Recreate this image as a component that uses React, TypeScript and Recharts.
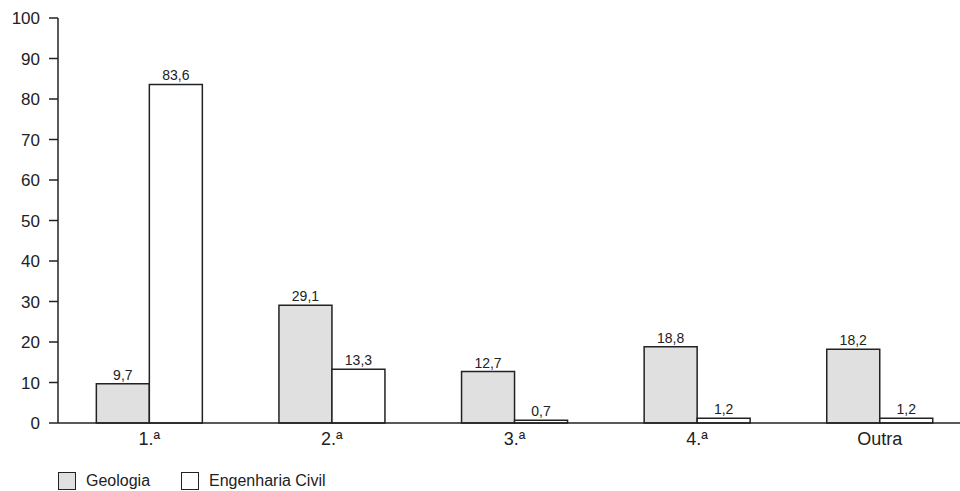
import { BarChart, Bar, XAxis, YAxis, LabelList } from 'recharts'

const categories = ['1.ª', '2.ª', '3.ª', '4.ª', 'Outra']
const geologia = [9.7, 29.1, 12.7, 18.8, 18.2]
const engenhariaCivil = [83.6, 13.3, 0.7, 1.2, 1.2]
const yTicks = [0, 10, 20, 30, 40, 50, 60, 70, 80, 90, 100]

const data = categories.map((name, i) => ({
  name,
  geologia: geologia[i],
  engenharia: engenhariaCivil[i],
}))

const fmt = (v: any) => Number(v).toFixed(1).replace('.', ',')
const font = 'Liberation Sans, Arial, sans-serif'
const ink = '#222'

function LegendBox({ fill, label, left }: { fill: string; label: string; left: number }) {
  return (
    <div style={{ position: 'absolute', left, top: 472, display: 'flex', alignItems: 'center' }}>
      <div style={{ width: 18, height: 18, background: fill, border: `1.5px solid ${ink}`, boxSizing: 'border-box' }} />
      <span style={{ marginLeft: 10, fontSize: 16, color: ink, fontFamily: font }}>{label}</span>
    </div>
  )
}

export default function App() {
  return (
    <div style={{ position: 'fixed', left: 0, top: 0, width: 960, height: 491, overflow: 'hidden', background: '#fff' }}>
      <BarChart
        width={971}
        height={491}
        data={data}
        margin={{ top: 18, right: 0, bottom: 38, left: 0 }}
        barCategoryGap="21%"
        barGap={0}
      >
        <XAxis
          dataKey="name"
          tickLine={false}
          axisLine={{ stroke: ink, strokeWidth: 1.5 }}
          tick={{ fontSize: 18, fill: ink, fontFamily: font }}
          tickMargin={3}
        />
        <YAxis
          width={58}
          domain={[0, 100]}
          ticks={yTicks}
          interval={0}
          tickSize={9}
          tickMargin={9}
          axisLine={{ stroke: ink, strokeWidth: 1.5 }}
          tickLine={{ stroke: ink, strokeWidth: 1.5 }}
          tick={{ fontSize: 17, fill: ink, fontFamily: font }}
        />
        <Bar dataKey="geologia" fill="#e0e0e0" stroke={ink} strokeWidth={1.5} isAnimationActive={false}>
          <LabelList dataKey="geologia" position="top" offset={4} formatter={fmt} style={{ fontSize: 14, fill: ink, fontFamily: font }} />
        </Bar>
        <Bar dataKey="engenharia" fill="#ffffff" stroke={ink} strokeWidth={1.5} isAnimationActive={false}>
          <LabelList dataKey="engenharia" position="top" offset={4} formatter={fmt} style={{ fontSize: 14, fill: ink, fontFamily: font }} />
        </Bar>
      </BarChart>
      <LegendBox fill="#e0e0e0" label="Geologia" left={58} />
      <LegendBox fill="#ffffff" label="Engenharia Civil" left={181} />
    </div>
  )
}
